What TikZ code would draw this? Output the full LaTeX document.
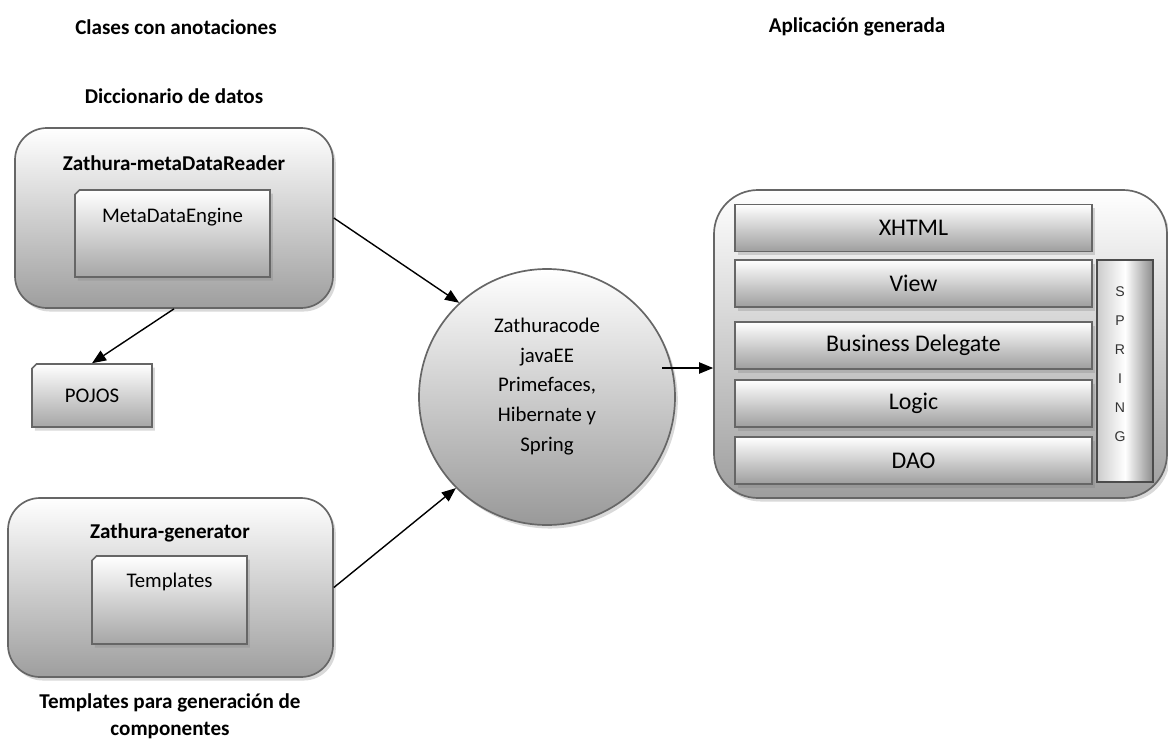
\documentclass[tikz,border=0pt]{standalone}
\usepackage{fontspec}
\setmainfont{Carlito}
\newfontfamily\springfont{Liberation Sans}
\usetikzlibrary{shapes.misc,shadows,arrows.meta}
\newcommand{\pxu}{0.025cm}

\begin{document}
\begin{tikzpicture}
[x=\pxu,y=-\pxu,
  softshadow/.style={drop shadow={shadow xshift=2pt,shadow yshift=-2.5pt,opacity=0.3}},
  outerbox/.style={draw=black!60,line width=1.2pt,rounded corners=0.8cm,
    top color=white,bottom color=black!38,softshadow},
  appbox/.style={outerbox,rounded corners=1.1cm},
  notebox/.style={chamfered rectangle,chamfered rectangle corners=north west,
    chamfered rectangle xsep=1.6pt,chamfered rectangle ysep=1.6pt,
    draw=black!60,line width=1.1pt,top color=white,bottom color=black!35,softshadow},
  layerbox/.style={draw=black!60,line width=1.1pt,top color=white,bottom color=black!38,
    softshadow,minimum width=357*\pxu,minimum height=47*\pxu,
    font=\fontsize{17}{20}\selectfont},
  springbox/.style={draw=black!70,line width=0.8pt,left color=black!20,right color=black!45,
    middle color=white},
  titletext/.style={font=\bfseries\fontsize{15}{19.5}\selectfont,align=center},
  plaintext/.style={font=\fontsize{14.8}{21}\selectfont,align=center},
  linkarrow/.style={-{Triangle[length=10pt,width=8pt]},line width=1pt}]
\useasboundingbox (0,0) rectangle (1168,743);
%% headings
\node (hclases) at (176,27) [titletext] {Clases con anotaciones};
\node (happ) at (857,27) [titletext] {Aplicación generada};
\node (hdicc) at (174,96) [titletext] {Diccionario de datos};
\node (htempl) at (170,716.5) [titletext] {Templates para generación de\\componentes};
%% left side
\node (mdr) at (174,218) [outerbox,minimum width=318*\pxu,minimum height=180*\pxu] {};
\node (mdrtitle) at (174,163) [titletext] {Zathura-metaDataReader};
\node (mde) at (172.5,233.5) [notebox,minimum width=195*\pxu,minimum height=87*\pxu] {};
\node (mdetext) at (172.5,217) [plaintext] {MetaDataEngine};
\node (pojos) at (92,395.5) [notebox,minimum width=120*\pxu,minimum height=63*\pxu,
  plaintext] {POJOS};
\node (gen) at (170.5,587.5) [outerbox,minimum width=325*\pxu,minimum height=179*\pxu] {};
\node (gentitle) at (170,533) [titletext] {Zathura-generator};
\node (tpl) at (169.5,600) [notebox,minimum width=155*\pxu,minimum height=88*\pxu] {};
\node (tpltext) at (169.5,582) [plaintext] {Templates};
%% engine
\node (engine) at (547,397) [circle,draw=black!60,line width=1.2pt,minimum size=256*\pxu,
  top color=white,bottom color=black!40,softshadow] {};
\node (enginetext) at (547,386.5) [plaintext]
  {Zathuracode\\javaEE\\Primefaces,\\Hibernate y\\Spring};
%% generated application
\node (app) at (940.5,344) [appbox,minimum width=453*\pxu,minimum height=308*\pxu] {};
\foreach \layername/\layertext/\y in {xhtml/XHTML/228, view/View/283.5,
  bd/Business Delegate/345.5, logic/Logic/403.5, dao/DAO/460.5} {
  \node (\layername) at (913.5,\y) [layerbox] {\layertext};
}
\node (spring) at (1125,371) [springbox,minimum width=56*\pxu,minimum height=222*\pxu] {};
\foreach \letter [count=\i from 0] in {S,P,R,I,N,G} {
  \node (spring\i) at (1120,292+29*\i)
    [text=black!80,font=\springfont\fontsize{10}{11}\selectfont] {\letter};
}
%% connectors
\coordinate (out) at (662,368);
\draw [linkarrow] (mdr.east) -- (engine.133);
\draw [linkarrow] (gen.east) -- (engine.225);
\draw [linkarrow] (mdr.south) -- (pojos.north);
\draw [linkarrow] (out) -- (out -| app.west);
\end{tikzpicture}
\end{document}
